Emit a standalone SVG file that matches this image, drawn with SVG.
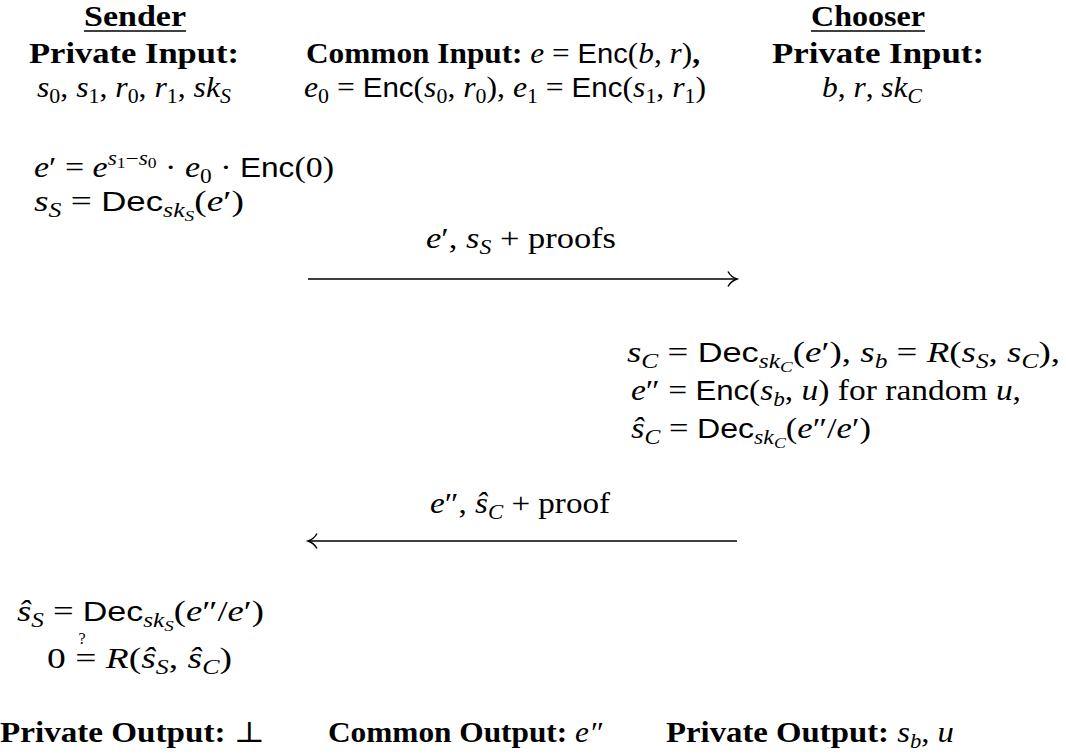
<svg xmlns="http://www.w3.org/2000/svg" width="1066" height="755" viewBox="0 0 1066 755">
<style>
text{font-family:"Liberation Serif","DejaVu Serif",serif;font-size:29px;fill:#000}
.b{font-weight:bold}
.i{font-style:italic}
.sf{font-family:"Liberation Sans","DejaVu Sans",sans-serif;font-size:27px}
.sub{font-size:20px}
.ss{font-size:15px}
.q{font-size:16px;fill:#000}
.ln{stroke:#000;stroke-width:1.5;fill:none}
.ul{stroke:#000;stroke-width:1.3}
</style>
<defs>
<marker id="ah" markerWidth="14" markerHeight="18" refX="11" refY="9" orient="auto" markerUnits="userSpaceOnUse">
<path d="M2,1.5 Q5,7 11,9 Q5,11 2,16.5" fill="none" stroke="#000" stroke-width="1.5"/>
</marker>
</defs>
<rect width="1066" height="755" fill="#fff"/>

<g id="sender-header">
<text x="135" y="26" class="b" text-anchor="middle" textLength="102" lengthAdjust="spacingAndGlyphs">Sender</text>
<line x1="84" y1="31" x2="186" y2="31" class="ul"/>
<text x="134" y="63" class="b" text-anchor="middle" textLength="210" lengthAdjust="spacingAndGlyphs">Private Input:</text>
<text x="37" y="97" textLength="194" lengthAdjust="spacingAndGlyphs"><tspan class="i">s</tspan><tspan class="sub" dy="6">0</tspan><tspan dy="-6">, </tspan><tspan class="i">s</tspan><tspan class="sub" dy="6">1</tspan><tspan dy="-6">, </tspan><tspan class="i">r</tspan><tspan class="sub" dy="6">0</tspan><tspan dy="-6">, </tspan><tspan class="i">r</tspan><tspan class="sub" dy="6">1</tspan><tspan dy="-6">, </tspan><tspan class="i">sk</tspan><tspan class="sub i" dy="6">S</tspan></text>
</g>

<g id="common-input">
<text x="306" y="63" textLength="394" lengthAdjust="spacingAndGlyphs"><tspan class="b">Common Input: </tspan><tspan class="i">e</tspan> = <tspan class="sf">Enc</tspan>(<tspan class="i">b</tspan>, <tspan class="i">r</tspan>)<tspan class="b">,</tspan></text>
<text x="304" y="97" textLength="402" lengthAdjust="spacingAndGlyphs"><tspan class="i">e</tspan><tspan class="sub" dy="6">0</tspan><tspan dy="-6"> = </tspan><tspan class="sf">Enc</tspan>(<tspan class="i">s</tspan><tspan class="sub" dy="6">0</tspan><tspan dy="-6">, </tspan><tspan class="i">r</tspan><tspan class="sub" dy="6">0</tspan><tspan dy="-6">), </tspan><tspan class="i">e</tspan><tspan class="sub" dy="6">1</tspan><tspan dy="-6"> = </tspan><tspan class="sf">Enc</tspan>(<tspan class="i">s</tspan><tspan class="sub" dy="6">1</tspan><tspan dy="-6">, </tspan><tspan class="i">r</tspan><tspan class="sub" dy="6">1</tspan><tspan dy="-6">)</tspan></text>
</g>

<g id="chooser-header">
<text x="868" y="26" class="b" text-anchor="middle" textLength="114" lengthAdjust="spacingAndGlyphs">Chooser</text>
<line x1="811" y1="31" x2="925" y2="31" class="ul"/>
<text x="878" y="63" class="b" text-anchor="middle" textLength="212" lengthAdjust="spacingAndGlyphs">Private Input:</text>
<text x="872" y="97" text-anchor="middle" textLength="100" lengthAdjust="spacingAndGlyphs"><tspan class="i">b</tspan>, <tspan class="i">r</tspan>, <tspan class="i">sk</tspan><tspan class="sub i" dy="6">C</tspan></text>
</g>

<g id="sender-step1">
<text x="34" y="177" textLength="300" lengthAdjust="spacingAndGlyphs"><tspan class="i">e</tspan>′ = <tspan class="i">e</tspan><tspan class="sub i" dy="-12">s</tspan><tspan class="ss" dy="3">1</tspan><tspan class="sub" dy="-3">−</tspan><tspan class="sub i">s</tspan><tspan class="ss" dy="3">0</tspan><tspan dy="9"> · </tspan><tspan class="i">e</tspan><tspan class="sub" dy="6">0</tspan><tspan dy="-6"> · </tspan><tspan class="sf">Enc</tspan>(0)</text>
<text x="34" y="211" textLength="210" lengthAdjust="spacingAndGlyphs"><tspan class="i">s</tspan><tspan class="sub i" dy="6">S</tspan><tspan dy="-6"> = </tspan><tspan class="sf">Dec</tspan><tspan class="sub i" dy="6">sk</tspan><tspan class="ss i" dy="4">S</tspan><tspan dy="-10">(</tspan><tspan class="i">e</tspan>′)</text>
</g>

<g id="chooser-step">
<text x="627" y="362" textLength="433" lengthAdjust="spacingAndGlyphs"><tspan class="i">s</tspan><tspan class="sub i" dy="6">C</tspan><tspan dy="-6"> = </tspan><tspan class="sf">Dec</tspan><tspan class="sub i" dy="6">sk</tspan><tspan class="ss i" dy="4">C</tspan><tspan dy="-10">(</tspan><tspan class="i">e</tspan>′), <tspan class="i">s</tspan><tspan class="sub i" dy="6">b</tspan><tspan dy="-6"> = </tspan><tspan class="i">R</tspan>(<tspan class="i">s</tspan><tspan class="sub i" dy="6">S</tspan><tspan dy="-6">, </tspan><tspan class="i">s</tspan><tspan class="sub i" dy="6">C</tspan><tspan dy="-6">),</tspan></text>
<text x="631" y="400" textLength="390" lengthAdjust="spacingAndGlyphs"><tspan class="i">e</tspan>″ = <tspan class="sf">Enc</tspan>(<tspan class="i">s</tspan><tspan class="sub i" dy="6">b</tspan><tspan dy="-6">, </tspan><tspan class="i">u</tspan>) for random <tspan class="i">u</tspan>,</text>
<text x="631" y="438" textLength="240" lengthAdjust="spacingAndGlyphs"><tspan class="i">ŝ</tspan><tspan class="sub i" dy="6">C</tspan><tspan dy="-6"> = </tspan><tspan class="sf">Dec</tspan><tspan class="sub i" dy="6">sk</tspan><tspan class="ss i" dy="4">C</tspan><tspan dy="-10">(</tspan><tspan class="i">e</tspan>″/<tspan class="i">e</tspan>′)</text>
</g>

<g id="sender-step2">
<text x="17" y="621" textLength="247" lengthAdjust="spacingAndGlyphs"><tspan class="i">ŝ</tspan><tspan class="sub i" dy="6">S</tspan><tspan dy="-6"> = </tspan><tspan class="sf">Dec</tspan><tspan class="sub i" dy="6">sk</tspan><tspan class="ss i" dy="4">S</tspan><tspan dy="-10">(</tspan><tspan class="i">e</tspan>″/<tspan class="i">e</tspan>′)</text>
<text x="47" y="668" textLength="185" lengthAdjust="spacingAndGlyphs">0 = <tspan class="i">R</tspan>(<tspan class="i">ŝ</tspan><tspan class="sub i" dy="6">S</tspan><tspan dy="-6">, </tspan><tspan class="i">ŝ</tspan><tspan class="sub i" dy="6">C</tspan><tspan dy="-6">)</tspan></text>
<text x="82" y="644" class="q" text-anchor="middle">?</text>
</g>

<g id="outputs">
<text x="0" y="742" textLength="265" lengthAdjust="spacingAndGlyphs"><tspan class="b">Private Output: </tspan>⊥</text>
<text x="328" y="742" textLength="274" lengthAdjust="spacingAndGlyphs"><tspan class="b">Common Output: </tspan><tspan class="i">e″</tspan></text>
<text x="666" y="742" textLength="288" lengthAdjust="spacingAndGlyphs"><tspan class="b">Private Output: </tspan><tspan class="i">s</tspan><tspan class="sub i" dy="6">b</tspan><tspan dy="-6">, </tspan><tspan class="i">u</tspan></text>
</g>

<g id="connectors">
<line x1="308" y1="279" x2="737" y2="279" class="ln" marker-end="url(#ah)"/>
<text x="521" y="248" text-anchor="middle" textLength="190" lengthAdjust="spacingAndGlyphs"><tspan class="i">e</tspan>′, <tspan class="i">s</tspan><tspan class="sub i" dy="6">S</tspan><tspan dy="-6"> + proofs</tspan></text>
<line x1="737" y1="541" x2="308" y2="541" class="ln" marker-end="url(#ah)"/>
<text x="520" y="513" text-anchor="middle" textLength="180" lengthAdjust="spacingAndGlyphs"><tspan class="i">e</tspan>″, <tspan class="i">ŝ</tspan><tspan class="sub i" dy="6">C</tspan><tspan dy="-6"> + proof</tspan></text>
</g>
</svg>
